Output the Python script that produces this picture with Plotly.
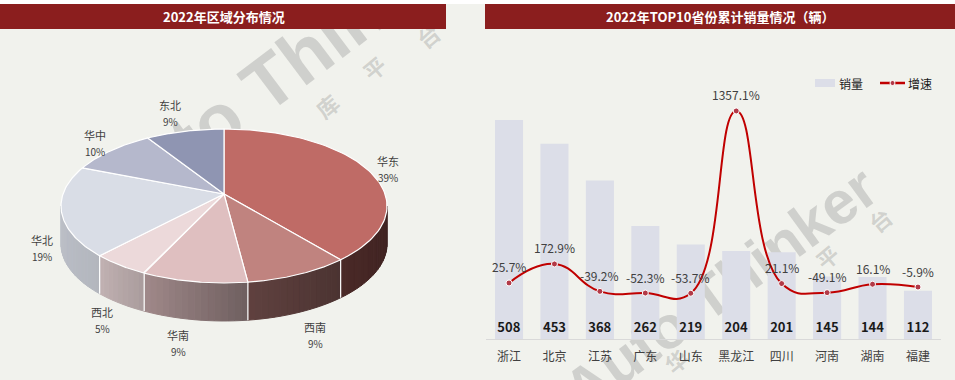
import numpy as np
import plotly.graph_objects as go

# ---------------- data ----------------
REGIONS = ['华东', '西南', '华南', '西北', '华北', '华中', '东北']
REGION_SHARE = [39, 9, 9, 5, 19, 10, 9]

PROVINCES = ['浙江', '北京', '江苏', '广东', '山东', '黑龙江', '四川', '河南', '湖南', '福建']
SALES = [508, 453, 368, 262, 219, 204, 201, 145, 144, 112]
GROWTH = [25.7, 172.9, -39.2, -52.3, -53.7, 1357.1, 21.1, -49.1, 16.1, -5.9]

SERIES_NAMES = ['销量', '增速']
TITLE_LEFT = '2022年区域分布情况'
TITLE_RIGHT = '2022年TOP10省份累计销量情况（辆）'

# ---------------- style ----------------
W, H = 955, 380
BG = '#f1f2ed'
BAR_RED = '#8b1e1e'
FONT = 'Noto Sans CJK SC'
TXT = '#404040'
BAR_COLOR = '#dcdee8'
LINE_COLOR = '#c00000'
MARKER_COLOR = '#b23a48'
SLICE_COLORS = ['#bf6b66', '#c0837f', '#dfbfc0', '#ecd9da', '#d9dde6', '#b5b8cc', '#8f95b2']
# label anchor positions (pixels) for pie labels: name line / pct line
LABEL_XY = [(388, 161), (315, 327), (178, 335), (102, 312), (42, 240), (95, 135), (170, 105)]

# pie projection params (pixels)
CX, CY = 224, 194
A, B, K = 161, 75.1, 0.156
DEPTH = 38


def proj(theta_deg):
    t = np.radians(theta_deg)
    u, v = np.sin(t), -np.cos(t)
    den = 1 - K * v
    return CX + A * u / den, CY + B * v / den


def hex2rgb(h):
    h = h.lstrip('#')
    return [int(h[i:i + 2], 16) for i in (0, 2, 4)]


def shade(hexc, f):
    r, g, b = hex2rgb(hexc)
    return 'rgb(%d,%d,%d)' % (r * f, g * f, b * f)


def side_factor(theta):
    return float(np.interp(theta, [99, 140, 173, 205, 225, 261],
                           [0.32, 0.39, 0.50, 0.72, 0.83, 0.87]))


def px(x):
    return x / W


def py(y):
    return 1 - y / H


fig = go.Figure()

# ---------------- 3D pie (pixel axes x2/y2) ----------------
total = float(sum(REGION_SHARE))
bounds = [0.0]
for v in REGION_SHARE:
    bounds.append(bounds[-1] + 360.0 * v / total)

VIS0, VIS1 = 99.0, 261.0
for i, col in enumerate(SLICE_COLORS):
    a0, a1 = max(bounds[i], VIS0), min(bounds[i + 1], VIS1)
    if a1 <= a0:
        continue
    n = max(2, int((a1 - a0) / 2))
    ts = np.linspace(a0, a1, n + 1)
    for j in range(n):
        t1, t2 = ts[j], ts[j + 1]
        x1, y1 = proj(t1)
        x2, y2 = proj(t2)
        c = shade(col, side_factor((t1 + t2) / 2))
        fig.add_trace(go.Scatter(
            x=[x1, x2, x2, x1, x1], y=[y1, y2, y2 + DEPTH, y1 + DEPTH, y1],
            mode='lines', fill='toself', fillcolor=c,
            line=dict(color=c, width=1), xaxis='x2', yaxis='y2',
            hoverinfo='skip', showlegend=False))
for bd in bounds[1:-1]:
    if VIS0 < bd < VIS1:
        x1, y1 = proj(bd)
        fig.add_trace(go.Scatter(x=[x1, x1], y=[y1, y1 + DEPTH], mode='lines',
                                 line=dict(color='white', width=1.2),
                                 xaxis='x2', yaxis='y2', hoverinfo='skip', showlegend=False))
for i, col in enumerate(SLICE_COLORS):
    ts = np.linspace(bounds[i], bounds[i + 1], 80)
    pts = [proj(t) for t in ts]
    xs = [CX] + [p[0] for p in pts] + [CX]
    ys = [CY] + [p[1] for p in pts] + [CY]
    fig.add_trace(go.Scatter(x=xs, y=ys, mode='lines', fill='toself', fillcolor=col,
                             line=dict(color='white', width=1.2),
                             xaxis='x2', yaxis='y2', name=REGIONS[i],
                             hoverinfo='name', showlegend=False))

annotations = []
for i, name in enumerate(REGIONS):
    lx, ly = LABEL_XY[i]
    annotations.append(dict(x=lx, y=ly, xref='x2', yref='y2', text=name, showarrow=False,
                            xanchor='center', yanchor='middle',
                            font=dict(family=FONT, size=11, color=TXT)))
    annotations.append(dict(x=lx, y=ly + 16, xref='x2', yref='y2',
                            text='%d%%' % REGION_SHARE[i], showarrow=False,
                            xanchor='center', yanchor='middle',
                            font=dict(family=FONT, size=10, color=TXT)))

# ---------------- bar + line chart ----------------
fig.add_trace(go.Bar(
    x=PROVINCES, y=SALES, name=SERIES_NAMES[0], marker=dict(color=BAR_COLOR, line=dict(width=0)),
    texttemplate='<b>%{y}</b>', textposition='inside', insidetextanchor='start',
    constraintext='none', textangle=0,
    textfont=dict(family=FONT, size=13, color='#1a1a1a'),
    xaxis='x', yaxis='y', showlegend=False))
fig.add_trace(go.Scatter(
    x=PROVINCES, y=GROWTH, name=SERIES_NAMES[1], mode='lines+markers',
    line=dict(color=LINE_COLOR, width=2, shape='spline', smoothing=1.3),
    marker=dict(size=6, color=MARKER_COLOR, line=dict(color='white', width=1)),
    xaxis='x', yaxis='y3', cliponaxis=False, showlegend=False))
# growth labels, 16px above each point
for p, g in zip(PROVINCES, GROWTH):
    annotations.append(dict(x=p, y=g, xref='x', yref='y3', yshift=16, text='%.1f%%' % g,
                            showarrow=False, xanchor='center', yanchor='middle',
                            font=dict(family=FONT, size=12, color=TXT)))

shapes = []
# watermarks (drawn below traces via shape labels)
WM = 'rgba(140,140,140,0.33)'
wms = [('Auto Thinker', 278, 66, -37, 74), ('Auto Thinker', 717, 284, -36, 60),
       ('库', 327, 106, -40, 22), ('平', 374, 68, -40, 22), ('台', 428, 36, -40, 22),
       ('平', 827, 257, -40, 22), ('台', 880, 220, -40, 22), ('华', 676, 361, -40, 22)]
for t, cx, cy, ang, sz in wms:
    shapes.append(dict(type='rect', xref='paper', yref='paper',
                       x0=px(cx - 1), x1=px(cx + 1), y0=py(cy + 1), y1=py(cy - 1),
                       line=dict(width=0), fillcolor='rgba(0,0,0,0)', layer='below',
                       label=dict(text='<b>%s</b>' % t, textangle=ang, textposition='middle center',
                                  font=dict(family='Liberation Sans, ' + FONT, size=sz, color=WM))))
# title bars drawn above watermark
shapes += [
    dict(type='rect', xref='paper', yref='paper', x0=0, x1=px(446), y0=py(29), y1=py(4),
         fillcolor=BAR_RED, line=dict(width=0), layer='below'),
    dict(type='rect', xref='paper', yref='paper', x0=px(485), x1=1, y0=py(29), y1=py(4),
         fillcolor=BAR_RED, line=dict(width=0), layer='below'),
    dict(type='rect', xref='paper', yref='paper', x0=0, x1=1, y0=py(4), y1=1,
         fillcolor='white', line=dict(width=0), layer='below'),
]
annotations.append(dict(x=px(224), y=py(16.5), xref='paper', yref='paper', text='<b>%s</b>' % TITLE_LEFT,
                        showarrow=False, xanchor='center', yanchor='middle',
                        font=dict(family=FONT, size=13, color='white')))
annotations.append(dict(x=px(720), y=py(16.5), xref='paper', yref='paper', text='<b>%s</b>' % TITLE_RIGHT,
                        showarrow=False, xanchor='center', yanchor='middle',
                        font=dict(family=FONT, size=13, color='white')))

# custom legend (wide bar swatch + line-with-marker swatch)
LEG_Y = 83
shapes.append(dict(type='rect', xref='paper', yref='paper', x0=px(815), x1=px(835),
                   y0=py(LEG_Y + 4), y1=py(LEG_Y - 4), fillcolor=BAR_COLOR, line=dict(width=0)))
shapes.append(dict(type='line', xref='paper', yref='paper', x0=px(880), x1=px(905),
                   y0=py(LEG_Y), y1=py(LEG_Y), line=dict(color=LINE_COLOR, width=2.5)))
shapes.append(dict(type='circle', xref='paper', yref='paper', x0=px(890), x1=px(895),
                   y0=py(LEG_Y + 2.5), y1=py(LEG_Y - 2.5), fillcolor=MARKER_COLOR,
                   line=dict(color='white', width=1)))
annotations.append(dict(x=px(837), y=py(LEG_Y), xref='paper', yref='paper', text=SERIES_NAMES[0],
                        showarrow=False, xanchor='left', yanchor='middle',
                        font=dict(family=FONT, size=12, color='#1a1a1a')))
annotations.append(dict(x=px(906), y=py(LEG_Y), xref='paper', yref='paper', text=SERIES_NAMES[1],
                        showarrow=False, xanchor='left', yanchor='middle',
                        font=dict(family=FONT, size=12, color='#1a1a1a')))

BASE_PX, TOP_PX = 339, 100
bar_px = 0.431
g_px = 0.1292
g_zero_px = 286.3
fig.update_layout(
    width=W, height=H, margin=dict(l=0, r=0, t=0, b=0),
    paper_bgcolor=BG, plot_bgcolor='rgba(0,0,0,0)',
    font=dict(family=FONT, color=TXT),
    shapes=shapes, annotations=annotations,
    bargap=0.383, showlegend=False,
    xaxis=dict(domain=[px(486.3), px(940.7)], range=[-0.5, 9.5], type='category',
               showgrid=False, zeroline=False, showline=True, linecolor='#d9d9d9', linewidth=1,
               ticks='', tickfont=dict(family=FONT, size=12, color=TXT), ticklabelstandoff=7,
               anchor='y'),
    yaxis=dict(domain=[py(BASE_PX), py(TOP_PX)],
               range=[0, (BASE_PX - TOP_PX) / bar_px], visible=False, anchor='x'),
    yaxis3=dict(domain=[py(BASE_PX), py(TOP_PX)], overlaying='y',
                range=[-(BASE_PX - g_zero_px) / g_px, (g_zero_px - TOP_PX) / g_px],
                visible=False, anchor='x'),
    xaxis2=dict(domain=[0, 1], range=[0, W], visible=False, anchor='y2', fixedrange=True),
    yaxis2=dict(domain=[0, 1], range=[H, 0], visible=False, anchor='x2', fixedrange=True),
)

fig.write_html('out.html', config={'displayModeBar': False},
               post_script="document.body.style.margin='0';document.body.style.overflow='hidden';")
